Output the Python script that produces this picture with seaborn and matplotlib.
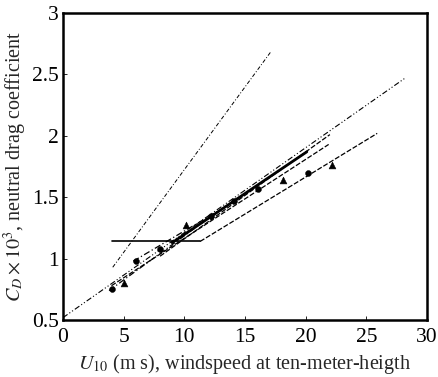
import numpy as np
import pandas as pd
import seaborn as sns
import matplotlib.pyplot as plt

# observed drag coefficient points
obs_u10 = [4.0, 5.0, 6.0, 8.0, 10.1, 12.2, 14.1, 16.1, 18.1, 20.2, 22.2]
obs_cd = [0.75, 0.80, 0.98, 1.08, 1.27, 1.35, 1.47, 1.57, 1.64, 1.70, 1.76]
obs_kind = ["c", "t", "c", "c", "t", "c", "c", "c", "t", "c", "t"]

# parameterisations, endpoints
steep_u = [4.1, 17.1]
steep_cd = [0.93, 2.68]
long_u = [0.0, 28.2]
long_cd = [0.52, 2.47]
const_u = [4.0, 11.3]
const_cd = [1.14, 1.14]
rise_u = [11.3, 25.9]
rise_cd = [1.14, 2.02]
solid_u = [9.0, 20.1]
solid_cd = [1.13, 1.87]
dash1_u = [4.0, 21.9]
dash1_cd = [0.78, 1.93]
dash2_u = [8.0, 22.0]
dash2_cd = [1.02, 2.01]
dd_u = [3.8, 12.0]
dd_cd = [0.74, 1.33]
short_u = [5.8, 13.0]
short_cd = [0.98, 1.40]

sns.set_style("ticks")
plt.rcParams['font.family'] = ['Liberation Serif', 'DejaVu Serif']
plt.rcParams['mathtext.fontset'] = 'stix'

fig = plt.figure(figsize=(4.39, 3.77), dpi=100)
ax = fig.add_axes([0.1435, 0.151, 0.829, 0.8145])

lines = [
    (steep_u, steep_cd, (0, (4, 2, 1, 2)), 0.7),
    (long_u, long_cd, (0, (5, 2, 1, 2, 1, 2)), 0.8),
    (const_u, const_cd, "-", 1.2),
    (rise_u, rise_cd, (0, (4, 1.5)), 0.9),
    (solid_u, solid_cd, "-", 2.0),
    (dash1_u, dash1_cd, (0, (4, 1.5)), 0.9),
    (dash2_u, dash2_cd, (0, (4, 1.5)), 0.9),
    (dd_u, dd_cd, (0, (5, 2, 1, 2)), 0.9),
    (short_u, short_cd, (0, (5, 2, 1, 2)), 0.9),
]
for u, cd, ls, lw in lines:
    sns.lineplot(x=u, y=cd, ax=ax, color="black", linestyle=ls, linewidth=lw)

df = pd.DataFrame({"u": obs_u10, "cd": obs_cd, "kind": obs_kind})
sns.scatterplot(data=df[df.kind == "c"], x="u", y="cd", ax=ax, color="black",
                marker="o", s=18, edgecolor="black", legend=False)
sns.scatterplot(data=df[df.kind == "t"], x="u", y="cd", ax=ax, color="black",
                marker="^", s=24, edgecolor="black", legend=False)

ax.set_xlim(0, 30)
ax.set_ylim(0.5, 3)
ax.set_xticks([0, 5, 10, 15, 20, 25, 30])
ax.set_yticks([0.5, 1, 1.5, 2, 2.5, 3])
ax.set_xticklabels(["0", "5", "10", "15", "20", "25", "30"])
ax.set_yticklabels(["0.5", "1", "1.5", "2", "2.5", "3"])
ax.tick_params(direction="in", length=3, width=0.6, labelsize=15.5, pad=3,
               colors="black")
ax.tick_params(axis="x", pad=6)
for sp in ax.spines.values():
    sp.set_linewidth(1.8)
    sp.set_color("black")
    sp.set_visible(True)

ax.set_xlabel(r"$U_{10}$ (m s), windspeed at ten-meter-heigth", fontsize=14.5, labelpad=3)
ax.set_ylabel(r"$C_D \times 10^3$, neutral drag coefficient", fontsize=14.5, labelpad=2)

fig.savefig("out.png", dpi=100)
